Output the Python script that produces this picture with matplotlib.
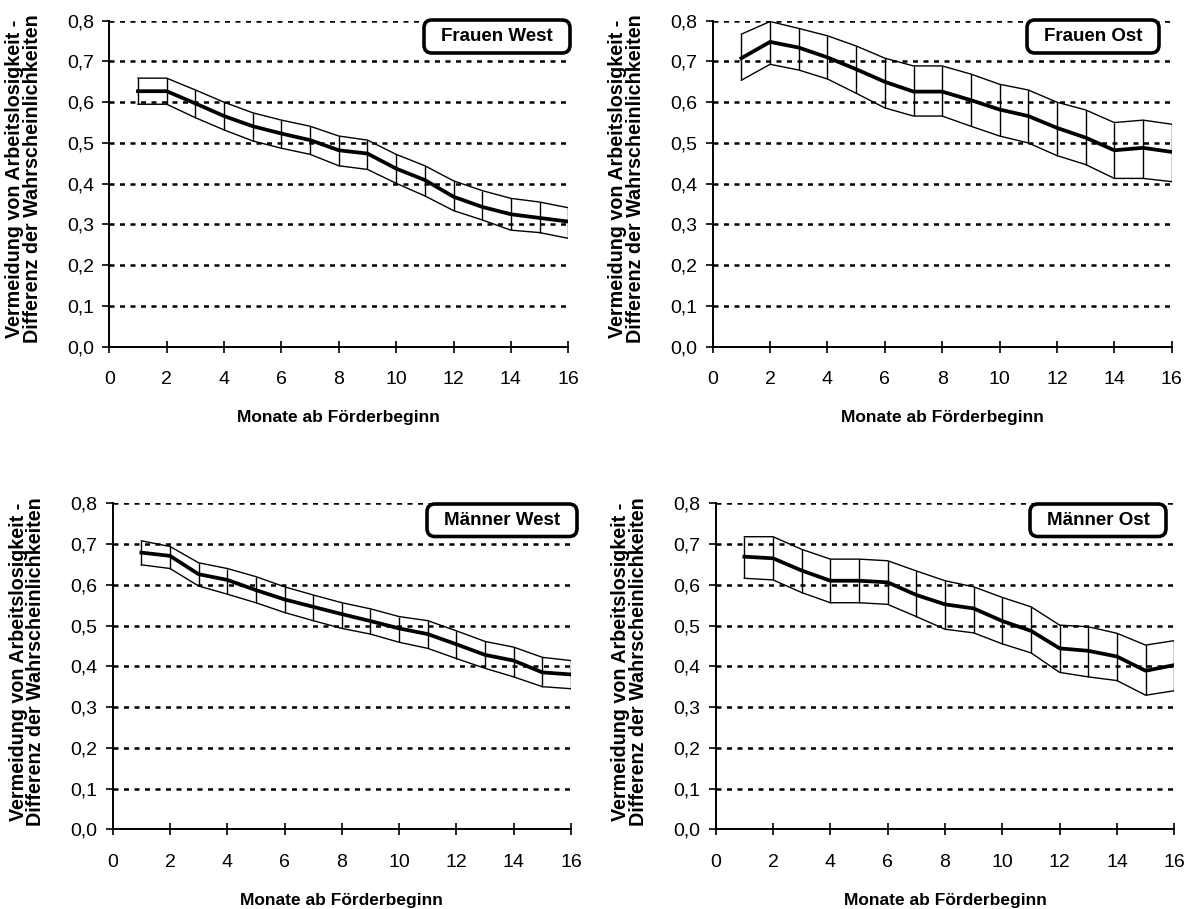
import matplotlib
matplotlib.use("Agg")
import matplotlib.pyplot as plt
from matplotlib.patches import FancyBboxPatch

plt.rcParams['font.family'] = ['Liberation Sans', 'DejaVu Sans']

months = list(range(1, 17))

# Frauen West
fw_mean = [0.627, 0.627, 0.597, 0.566, 0.541, 0.523, 0.507, 0.482, 0.474, 0.437, 0.409, 0.368, 0.343, 0.325, 0.316, 0.307]
fw_hi   = [0.659, 0.659, 0.630, 0.600, 0.574, 0.556, 0.541, 0.517, 0.507, 0.472, 0.444, 0.407, 0.383, 0.364, 0.355, 0.341]
fw_lo   = [0.595, 0.595, 0.562, 0.532, 0.505, 0.487, 0.472, 0.444, 0.435, 0.401, 0.370, 0.334, 0.311, 0.286, 0.280, 0.266]

# Frauen Ost
fo_mean = [0.708, 0.748, 0.734, 0.710, 0.681, 0.650, 0.626, 0.626, 0.605, 0.582, 0.566, 0.537, 0.513, 0.482, 0.488, 0.478]
fo_hi   = [0.767, 0.798, 0.781, 0.763, 0.738, 0.708, 0.689, 0.689, 0.669, 0.644, 0.630, 0.600, 0.581, 0.550, 0.556, 0.546]
fo_lo   = [0.654, 0.693, 0.679, 0.657, 0.622, 0.586, 0.566, 0.566, 0.541, 0.517, 0.500, 0.469, 0.447, 0.413, 0.413, 0.405]

# Männer West
mw_mean = [0.679, 0.671, 0.626, 0.612, 0.587, 0.564, 0.546, 0.528, 0.511, 0.493, 0.479, 0.454, 0.428, 0.414, 0.385, 0.380]
mw_hi   = [0.708, 0.694, 0.654, 0.640, 0.620, 0.595, 0.575, 0.556, 0.541, 0.522, 0.512, 0.487, 0.461, 0.447, 0.422, 0.414]
mw_lo   = [0.649, 0.640, 0.597, 0.577, 0.556, 0.532, 0.512, 0.493, 0.479, 0.459, 0.444, 0.419, 0.395, 0.374, 0.350, 0.345]

# Männer Ost
mo_mean = [0.669, 0.665, 0.635, 0.610, 0.610, 0.606, 0.575, 0.552, 0.542, 0.511, 0.487, 0.444, 0.438, 0.424, 0.389, 0.403]
mo_hi   = [0.718, 0.718, 0.687, 0.663, 0.663, 0.659, 0.634, 0.610, 0.595, 0.569, 0.546, 0.501, 0.497, 0.481, 0.452, 0.463]
mo_lo   = [0.616, 0.612, 0.581, 0.556, 0.556, 0.552, 0.522, 0.491, 0.482, 0.455, 0.433, 0.385, 0.374, 0.365, 0.329, 0.340]

titles = ["Frauen West", "Frauen Ost", "Männer West", "Männer Ost"]
xticks = [0, 2, 4, 6, 8, 10, 12, 14, 16]
yticks = [0.0, 0.1, 0.2, 0.3, 0.4, 0.5, 0.6, 0.7, 0.8]
ytick_labels = ["0,0", "0,1", "0,2", "0,3", "0,4", "0,5", "0,6", "0,7", "0,8"]
xlabel = "Monate ab Förderbeginn"
ylabel = "Vermeidung von Arbeitslosigkeit -\nDifferenz der Wahrscheinlichkeiten"

W, H = 1192, 909
fig = plt.figure(figsize=(W / 100, H / 100), dpi=100)

# axes boxes in pixels: left, right, top, bottom
boxes = [
    (109.3, 568.3, 20.7, 346.7),
    (712.7, 1171.7, 20.7, 346.7),
    (112.7, 571.0, 503.3, 829.3),
    (715.7, 1174.3, 503.3, 829.3),
]
# label boxes in pixels: left, right, top, bottom
label_boxes = [
    (422, 572, 18, 55),
    (1025, 1161, 18, 55),
    (425, 579, 502, 538.5),
    (1028, 1168, 502, 538.5),
]

series = [
    (fw_mean, fw_lo, fw_hi),
    (fo_mean, fo_lo, fo_hi),
    (mw_mean, mw_lo, mw_hi),
    (mo_mean, mo_lo, mo_hi),
]

for i, (box, (mean, lo, hi), title) in enumerate(zip(boxes, series, titles)):
    l, r, t, b = box
    ax = fig.add_axes([l / W, (H - b) / H, (r - l) / W, (b - t) / H])
    for yv in yticks[1:]:
        ax.axhline(yv, color='black', lw=1.8, linestyle=(0, (2.0, 2.2)), zorder=1)
    ax.plot(months, hi, color='black', lw=1.0, zorder=3)
    ax.plot(months, lo, color='black', lw=1.0, zorder=3)
    ax.vlines(months, lo, hi, color='black', lw=1.0, zorder=3)
    ax.plot(months, mean, color='black', lw=2.7, zorder=4)
    ax.set_xlim(0, 16)
    ax.set_ylim(0, 0.8)
    ax.set_xticks(xticks)
    ax.set_yticks(yticks)
    ax.set_yticklabels(ytick_labels)
    ax.tick_params(axis='x', direction='inout', length=9, width=1.2, labelsize=14, pad=13)
    ax.tick_params(axis='y', direction='out', length=5, width=1.2, labelsize=14, pad=6)
    for s in ['top', 'right']:
        ax.spines[s].set_visible(False)
    for s in ['left', 'bottom']:
        ax.spines[s].set_linewidth(1.4)
        ax.spines[s].set_color('black')
    ax.set_xlabel(xlabel, fontsize=12.5, fontweight='bold', labelpad=16)
    ax.set_ylabel(ylabel, fontsize=14.2, fontweight='bold', linespacing=0.92)
    ax.yaxis.set_label_coords(-0.147, 0.515)

    bl, br, bt, bb = label_boxes[i]
    patch = FancyBboxPatch(((bl + 2) / 100, (H - bb + 2) / 100), (br - bl - 4) / 100, (bb - bt - 4) / 100,
                           boxstyle='round,pad=0,rounding_size=0.08', fc='white', ec='black', lw=2.6,
                           transform=fig.dpi_scale_trans, zorder=10)
    fig.patches.append(patch)
    fig.text((bl + br) / 2 / W, (H - (bt + bb) / 2) / H, title, ha='center', va='center',
             fontsize=13.5, fontweight='bold', zorder=11)

fig.savefig("out.png", dpi=100)
